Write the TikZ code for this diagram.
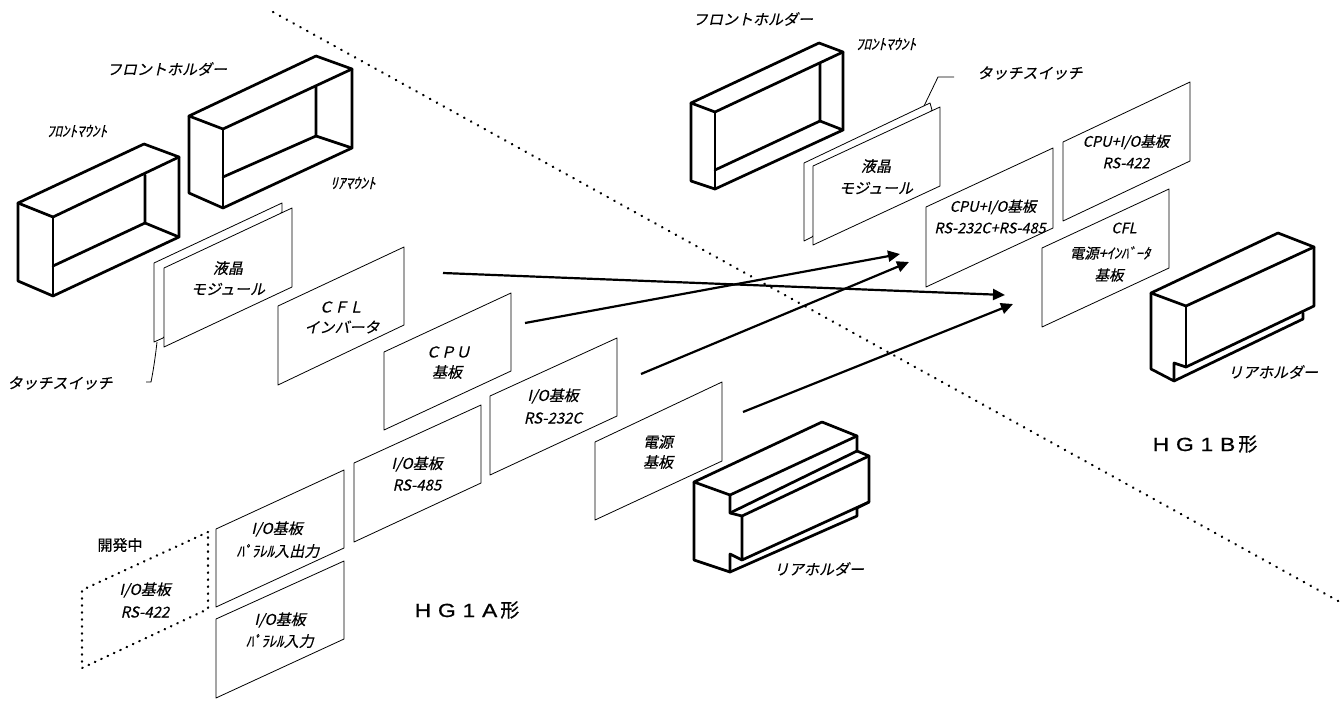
\documentclass[tikz,border=0pt]{standalone}
\usepackage{fontspec}
\usetikzlibrary{arrows.meta}
\newfontfamily\jpfont[FakeSlant=0.22,FakeBold=0.25]{Noto Sans CJK JP}
\newfontfamily\jpupright[FakeBold=0.25]{Noto Sans CJK JP}
\newfontfamily\hgkanji[FakeBold=0.8]{Noto Sans CJK JP}
\newfontfamily\hgfont[FakeStretch=1.2,LetterSpace=36,FakeBold=0.8]{Liberation Sans}
\tikzset{
  lbl/.style={font=\jpfont\fontsize{15}{15}\selectfont, inner sep=0pt},
  lblsmall/.style={font=\jpfont\fontsize{14.5}{14.5}\selectfont, inner sep=0pt},
  board/.style={draw, fill=white, line width=0.8pt, line join=round},
  holder/.style={line width=2.7pt, line join=round, line cap=round},
  dotline/.style={line width=2.4pt, line cap=round, dash pattern=on 0.4pt off 7.4pt},
  dotbox/.style={line width=2.4pt, line cap=round, dash pattern=on 0.4pt off 6.6pt},
  flow/.style={line width=2.2pt, -{Triangle[length=12pt,width=11pt]}},
  title/.style={inner sep=0pt, font=\fontsize{19}{19}\selectfont}
}
\begin{document}
\begin{tikzpicture}[x=1pt,y=-1pt]
\useasboundingbox (0,0) rectangle (1340,701);
% ======== divider ========
\coordinate (divA) at (273,12);
\coordinate (divB) at (1340,602);
\draw[dotline] (divA) -- (divB);
% ======== LEFT: front holders ========
\draw[holder] (189,116) -- (316,56) -- (352,69) -- (223,129) -- cycle;
\draw[holder] (352,69) -- (352,148) -- (223,208) -- (189,193) -- (189,116);
\draw[holder] (223,129) -- (223,208);
\draw[holder] (316,87) -- (316,136) -- (352,148);
\draw[holder] (316,136) -- (223,177);
\draw[holder] (18,203) -- (144,144) -- (179,157) -- (53,217) -- cycle;
\draw[holder] (179,157) -- (179,237) -- (53,296) -- (18,281) -- (18,203);
\draw[holder] (53,217) -- (53,296);
\draw[holder] (145,175) -- (145,223) -- (179,237);
\draw[holder] (145,223) -- (53,266);
% ======== LEFT: boards ========
\draw[board] (154,263) -- (282,203) -- (282,212) -- (163,338) -- (154,342) -- cycle;
\draw[line width=0.8pt] (157,342) .. controls (155,360) and (153,372) .. (151,382) -- (146,382);
\foreach \xa/\ya/\xb/\yb/\yc/\yd in {
  164/268/292/208/287/347,
  278/306/404/247/325/385,
  384/352/511/293/371/430,
  490/396/617/338/416/475,
  354/463/481/405/483/542,
  595/442/722/382/461/520,
  216/529/344/470/548/607,
  216/619/344/561/639/698}
  \draw[board] (\xa,\ya) -- (\xb,\yb) -- (\xb,\yc) -- (\xa,\yd) -- cycle;
% board under development
\draw[dotbox] (208,532) -- (82,590) -- (82,668) -- (208,609) -- (208,532);
% ======== LEFT: rear holder ========
\draw[holder] (694,482) -- (822,422) -- (857,436) -- (730,495) -- cycle;
\draw[holder] (857,436) -- (857,451) -- (869,456) -- (869,502) -- (857,508) -- (857,516) -- (730,572) -- (694,560) -- (694,482);
\draw[holder] (730,495) -- (730,513) -- (742,516) -- (742,560) -- (869,502);
\draw[holder] (730,513) -- (857,451);
\draw[holder] (742,516) -- (869,456);
\draw[holder] (742,560) -- (730,554) -- (730,572);
% ======== RIGHT: front holder ========
\draw[holder] (691,103) -- (819,43) -- (843,52) -- (715,112) -- cycle;
\draw[holder] (843,52) -- (843,130) -- (715,189) -- (691,181) -- (691,103);
\draw[holder] (715,112) -- (715,189);
\draw[holder] (820,63) -- (820,121) -- (843,130);
\draw[holder] (820,121) -- (715,170);
% ======== RIGHT: boards ========
\draw[board] (804,163) -- (930,103) -- (932,110) -- (812,237) -- (804,241) -- cycle;
\draw[line width=0.8pt] (924,106) -- (938,77) -- (954,77);
\foreach \xa/\ya/\xb/\yb/\yc/\yd in {
  813/166/940/107/186/245,
  926/207/1053/148/228/287,
  1063/142/1190/82/161/221,
  1042/248/1169/189/268/327}
  \draw[board] (\xa,\ya) -- (\xb,\yb) -- (\xb,\yc) -- (\xa,\yd) -- cycle;
% ======== RIGHT: rear holder ========
\draw[holder] (1151,293) -- (1278,233) -- (1314,247) -- (1186,306) -- cycle;
\draw[holder] (1314,247) -- (1314,306) -- (1186,367) -- (1174,363) -- (1174,381) -- (1151,369) -- (1151,293);
\draw[holder] (1186,306) -- (1186,367);
\draw[holder] (1174,381) -- (1303,319) -- (1303,313);
% ======== arrows ========
\coordinate (cflOut) at (443,273);
\coordinate (cflIn) at (1005,295);
\coordinate (cpuOut) at (525,323);
\coordinate (cpuIn) at (900,254);
\coordinate (ioOut) at (641,374);
\coordinate (ioIn) at (909,262);
\coordinate (psuOut) at (743,412);
\coordinate (psuIn) at (1013,304);
\draw[flow] (cflOut) -- (cflIn);
\draw[flow] (cpuOut) -- (cpuIn);
\draw[flow] (ioOut) -- (ioIn);
\draw[flow] (psuOut) -- (psuIn);
% ======== LEFT: labels ========
\node[lbl] (holderA) at (167,69) {フロントホルダー};
\node[lbl] (frontA) at (77,131) {ﾌﾛﾝﾄﾏｳﾝﾄ};
\node[lbl] (rearA) at (353,183) {ﾘｱﾏｳﾝﾄ};
\node[lbl] (lcdA) at (228,268) {液晶};
\node[lbl] (lcdAb) at (228,289) {モジュール};
\node[lbl] (touchA) at (60,383) {タッチスイッチ};
\node[lbl] (cflA) at (341,307) {ＣＦＬ};
\node[lbl] (cflAb) at (342,327) {インバータ};
\node[lbl] (cpuA) at (448,352) {ＣＰＵ};
\node[lbl] (cpuAb) at (447,372) {基板};
\node[lbl] (rs232) at (553,396) {I/O基板};
\node[lbl] (rs232b) at (553,418) {RS-232C};
\node[lbl] (rs485) at (417,464) {I/O基板};
\node[lbl] (rs485b) at (417,485) {RS-485};
\node[lbl] (parIO) at (277,529) {I/O基板};
\node[lbl] (parIOb) at (278,551) {ﾊﾟﾗﾚﾙ入出力};
\node[lbl] (parIn) at (280,620) {I/O基板};
\node[lbl] (parInb) at (280,641) {ﾊﾟﾗﾚﾙ入力};
\node[lbl, font=\jpupright\fontsize{15}{15}\selectfont] (devel) at (120,545) {開発中};
\node[lbl] (rs422) at (145,590) {I/O基板};
\node[lbl] (rs422b) at (145,612) {RS-422};
\node[lbl] (psuA) at (658,442) {電源};
\node[lbl] (psuAb) at (658,462) {基板};
\node[lbl] (rearHolderA) at (819,569) {リアホルダー};
\node[title] (hgA) at (467,610) {{\hgfont HG1A}\hspace{3pt}{\hgkanji 形}};
% ======== RIGHT: labels ========
\node[lbl] (holderB) at (753,19) {フロントホルダー};
\node[lbl] (frontB) at (886,44) {ﾌﾛﾝﾄﾏｳﾝﾄ};
\node[lbl] (touchB) at (1030,73) {タッチスイッチ};
\node[lbl] (lcdB) at (876,166) {液晶};
\node[lbl] (lcdBb) at (876,188) {モジュール};
\node[lblsmall] (combo) at (993,207) {CPU+I/O基板};
\node[lblsmall] (comboB) at (990,228) {RS-232C+RS-485};
\node[lblsmall] (comboC) at (1126,142) {CPU+I/O基板};
\node[lblsmall] (comboD) at (1126,163) {RS-422};
\node[lblsmall] (cflB) at (1124,228) {CFL};
\node[lblsmall] (psuB) at (1110,253) {電源+ｲﾝﾊﾞｰﾀ};
\node[lblsmall] (psuBb) at (1109,275) {基板};
\node[lbl] (rearHolderB) at (1273,372) {リアホルダー};
\node[title] (hgB) at (1205,444) {{\hgfont HG1B}\hspace{3pt}{\hgkanji 形}};
\end{tikzpicture}
\end{document}
